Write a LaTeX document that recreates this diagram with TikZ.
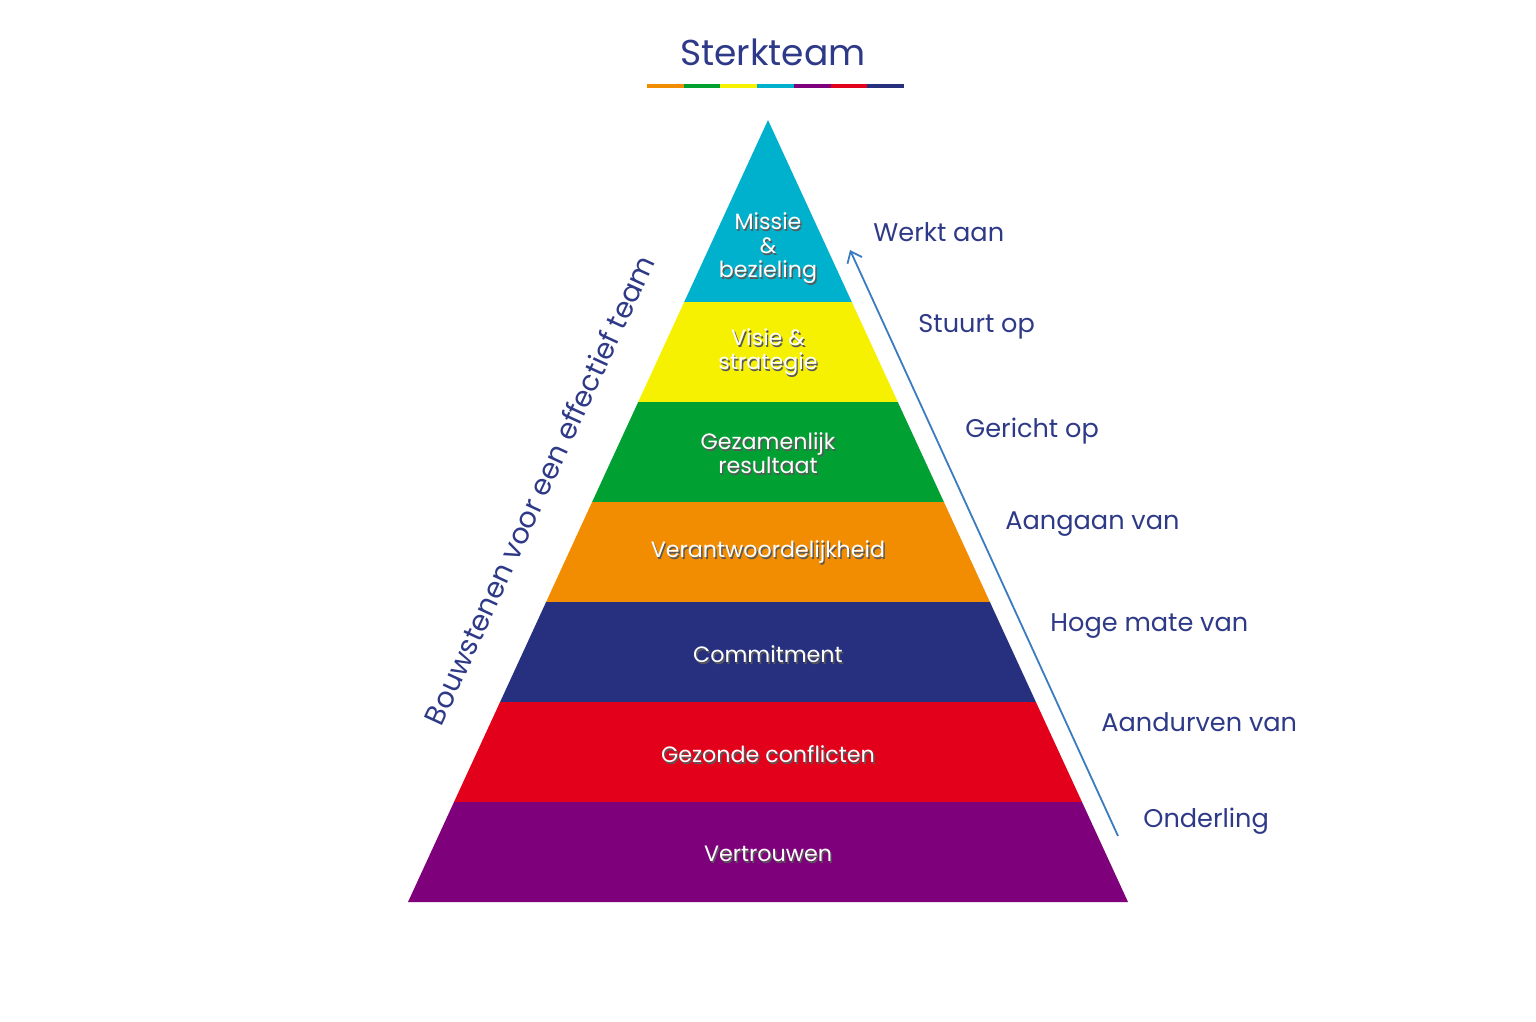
\documentclass[tikz,border=0pt]{standalone}
\usepackage{fontspec}
\setmainfont{Poppins}
\usetikzlibrary{arrows.meta}
\definecolor{cCyan}{HTML}{00B1CD}
\definecolor{cYellow}{HTML}{F6F100}
\definecolor{cGreen}{HTML}{00A032}
\definecolor{cOrange}{HTML}{F28C00}
\definecolor{cNavy}{HTML}{26307F}
\definecolor{cRed}{HTML}{E3001B}
\definecolor{cPurple}{HTML}{7E007B}
\definecolor{txtBlue}{HTML}{2E3A87}
\definecolor{arrBlue}{HTML}{3B7BC0}
\newcommand{\sh}[1]{\leavevmode\rlap{\hspace{0.7pt}\raisebox{-0.7pt}{\color{black!65}#1}}#1}
\tikzset{
  bandtext/.style={text=white, align=center, font=\fontsize{11.1}{12}\selectfont, inner sep=0pt},
  sidelabel/.style={text=txtBlue, anchor=base west, font=\fontsize{12.8}{15}\selectfont, inner sep=0pt},
  uline/.style={line width=2pt},
}
\begin{document}
\begin{tikzpicture}[x=0.5pt,y=-0.5pt]
\useasboundingbox[fill=white] (0,0) rectangle (1536,1022);
% title
\node[text=txtBlue, font=\fontsize{18}{20}\selectfont, inner sep=0pt] (title) at (773,52) {Sterkteam};
\foreach \c [count=\i from 0] in {cOrange,cGreen,cYellow,cCyan,cPurple,cRed,cNavy}
  \draw[uline, \c] (647+\i*36.714,86) -- (647+\i*36.714+36.714,86);
% pyramid bands
\fill[cCyan]   (768,120) -- (851.8,302) -- (684.2,302) -- cycle;
\fill[cYellow] (684.2,302) -- (851.8,302) -- (897.8,402) -- (638.2,402) -- cycle;
\fill[cGreen]  (638.2,402) -- (897.8,402) -- (943.9,502) -- (592.1,502) -- cycle;
\fill[cOrange] (592.1,502) -- (943.9,502) -- (989.9,602) -- (546.1,602) -- cycle;
\fill[cNavy]   (546.1,602) -- (989.9,602) -- (1035.9,702) -- (500.1,702) -- cycle;
\fill[cRed]    (500.1,702) -- (1035.9,702) -- (1082,802) -- (454,802) -- cycle;
\fill[cPurple] (454,802) -- (1082,802) -- (1128,902) -- (408,902) -- cycle;
% band texts
\node[bandtext] (b1) at (768,249) {\sh{Missie}\\\sh{\&}\\\sh{bezieling}};
\node[bandtext] (b2) at (768,353) {\sh{Visie \&}\\\sh{strategie}};
\node[bandtext] (b3) at (768,454) {\sh{Gezamenlijk}\\\sh{resultaat}};
\node[bandtext] (b4) at (768,553) {\sh{Verantwoordelijkheid}};
\node[bandtext] (b5) at (768,655) {\sh{Commitment}};
\node[bandtext] (b6) at (768,755) {\sh{Gezonde conflicten}};
\node[bandtext] (b7) at (768,855) {\sh{Vertrouwen}};
% side labels
\node[sidelabel] (l1) at (873,241) {Werkt aan};
\node[sidelabel] (l2) at (918,332) {Stuurt op};
\node[sidelabel] (l3) at (965,437) {Gericht op};
\node[sidelabel] (l4) at (1005,529) {Aangaan van};
\node[sidelabel] (l5) at (1050,631) {Hoge mate van};
\node[sidelabel] (l6) at (1101,731) {Aandurven van};
\node[sidelabel] (l7) at (1143,827) {Onderling};
% arrow
\coordinate (as) at (1118,836);
\coordinate (ae) at (850,250);
\draw[arrBlue, line width=0.9pt, -{Straight Barb[length=5pt,width=8pt]}] (as) -- (ae);
% rotated text
\node[text=txtBlue, font=\fontsize{14.2}{18}\selectfont, rotate=65.3, inner sep=0pt] (side) at (539,490) {Bouwstenen voor een effectief team};
\end{tikzpicture}
\end{document}
